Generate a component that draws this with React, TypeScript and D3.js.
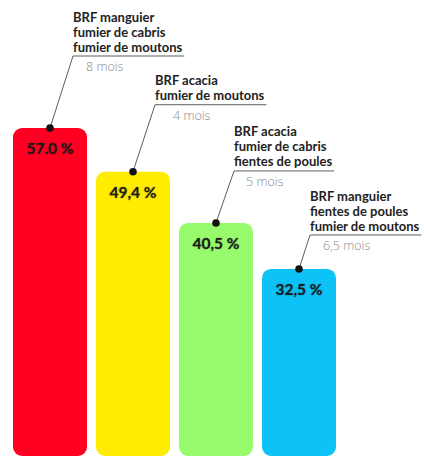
import React, { useEffect, useRef } from 'react';
import * as d3 from 'd3';

const treatments = [
    ['BRF manguier', 'fumier de cabris', 'fumier de moutons'],
    ['BRF acacia', 'fumier de moutons'],
    ['BRF acacia', 'fumier de cabris', 'fientes de poules'],
    ['BRF manguier', 'fientes de poules', 'fumier de moutons'],
];
const values = [57.0, 49.4, 40.5, 32.5];
const valueLabels = ['57.0 %', '49,4 %', '40,5 %', '32,5 %'];
const durations = ['8 mois', '4 mois', '5 mois', '6,5 mois'];

const colors = ['#ff0520', '#ffec00', '#98fb6c', '#0fc2f7'];

// where the callout elbow sits, relative to the dot on top of the bar
const callouts = [
    { dx: 23, dy: -72, mx: 13 },
    { dx: 22, dy: -67, mx: 18 },
    { dx: 18, dy: -52, mx: 12 },
    { dx: 11, dy: -34, mx: 13 },
];

const W = 424;
const H = 457;

const App: React.FC = () => {
    const ref = useRef<SVGSVGElement | null>(null);

    useEffect(() => {
        if (!ref.current) return;
        const svg = d3.select(ref.current);
        svg.selectAll('*').remove();

        const idx = values.map((_, i) => i);
        const x = d3.scaleBand<number>()
            .domain(idx)
            .range([13, 336])
            .paddingInner(9 / 83)
            .paddingOuter(0);
        const y = d3.scaleLinear().domain([0, 57]).range([456, 128]);

        const defs = svg.append('defs');
        const f = defs.append('filter').attr('id', 'soft').attr('x', '-10%').attr('y', '-10%')
            .attr('width', '120%').attr('height', '120%');
        f.append('feGaussianBlur').attr('stdDeviation', 0.5);

        svg.append('g')
            .selectAll('rect')
            .data(values)
            .join('rect')
            .attr('x', (_, i) => x(i) as number)
            .attr('y', (d) => y(d))
            .attr('width', x.bandwidth())
            .attr('height', (d) => y(0) - y(d))
            .attr('rx', 9)
            .attr('fill', (_, i) => colors[i])
            .attr('filter', 'url(#soft)');

        // value labels
        svg.append('g')
            .selectAll('text')
            .data(values)
            .join('text')
            .attr('x', (_, i) => (x(i) as number) + x.bandwidth() / 2)
            .attr('y', (d) => y(d) + 21)
            .attr('dy', '0.35em')
            .attr('text-anchor', 'middle')
            .attr('font-family', 'Lato, sans-serif')
            .attr('font-weight', 700)
            .attr('font-size', 15.5)
            .attr('fill', '#1a1a1a')
            .style('text-shadow', '0 0 1.5px rgba(0,0,0,0.45)')
            .text((_, i) => valueLabels[i]);

        const notes = svg.append('g');
        values.forEach((v, i) => {
            const cx = (x(i) as number) + x.bandwidth() / 2;
            const cy = y(v);
            const ex = cx + callouts[i].dx;
            const ey = cy + callouts[i].dy;
            const lines = treatments[i];

            const txt = notes.append('g');
            const t = txt.selectAll('text')
                .data(lines)
                .join('text')
                .attr('x', ex)
                .attr('y', (_, j) => ey - 9 - (lines.length - 1 - j) * 15)
                .attr('dy', '0.35em')
                .attr('font-family', 'Lato, sans-serif')
                .attr('font-weight', 700)
                .attr('font-size', 13)
                .attr('fill', '#222')
                .text((d) => d);

            let maxW = 0;
            t.each(function () {
                maxW = Math.max(maxW, (this as SVGTextElement).getComputedTextLength());
            });

            notes.append('line')
                .attr('x1', cx).attr('y1', cy)
                .attr('x2', ex).attr('y2', ey)
                .attr('stroke', '#333')
                .attr('stroke-width', 0.8);
            notes.append('line')
                .attr('x1', ex).attr('y1', ey)
                .attr('x2', ex + maxW + 2).attr('y2', ey)
                .attr('stroke', '#333')
                .attr('stroke-width', 0.8);

            notes.append('text')
                .attr('x', ex + callouts[i].mx)
                .attr('y', ey + 11)
                .attr('dy', '0.35em')
                .attr('font-family', '"Open Sans", sans-serif')
                .attr('font-weight', 300)
                .attr('font-size', 12.5)
                .attr('fill', '#8a8a8a')
                .text(durations[i]);

            notes.append('circle')
                .attr('cx', cx).attr('cy', cy)
                .attr('r', 3.8)
                .attr('fill', '#111');
        });
    }, []);

    return (
        <svg
            ref={ref}
            width={W}
            height={H}
            style={{ position: 'absolute', left: 0, top: 0, background: '#fff' }}
        />
    );
};

export default App;
